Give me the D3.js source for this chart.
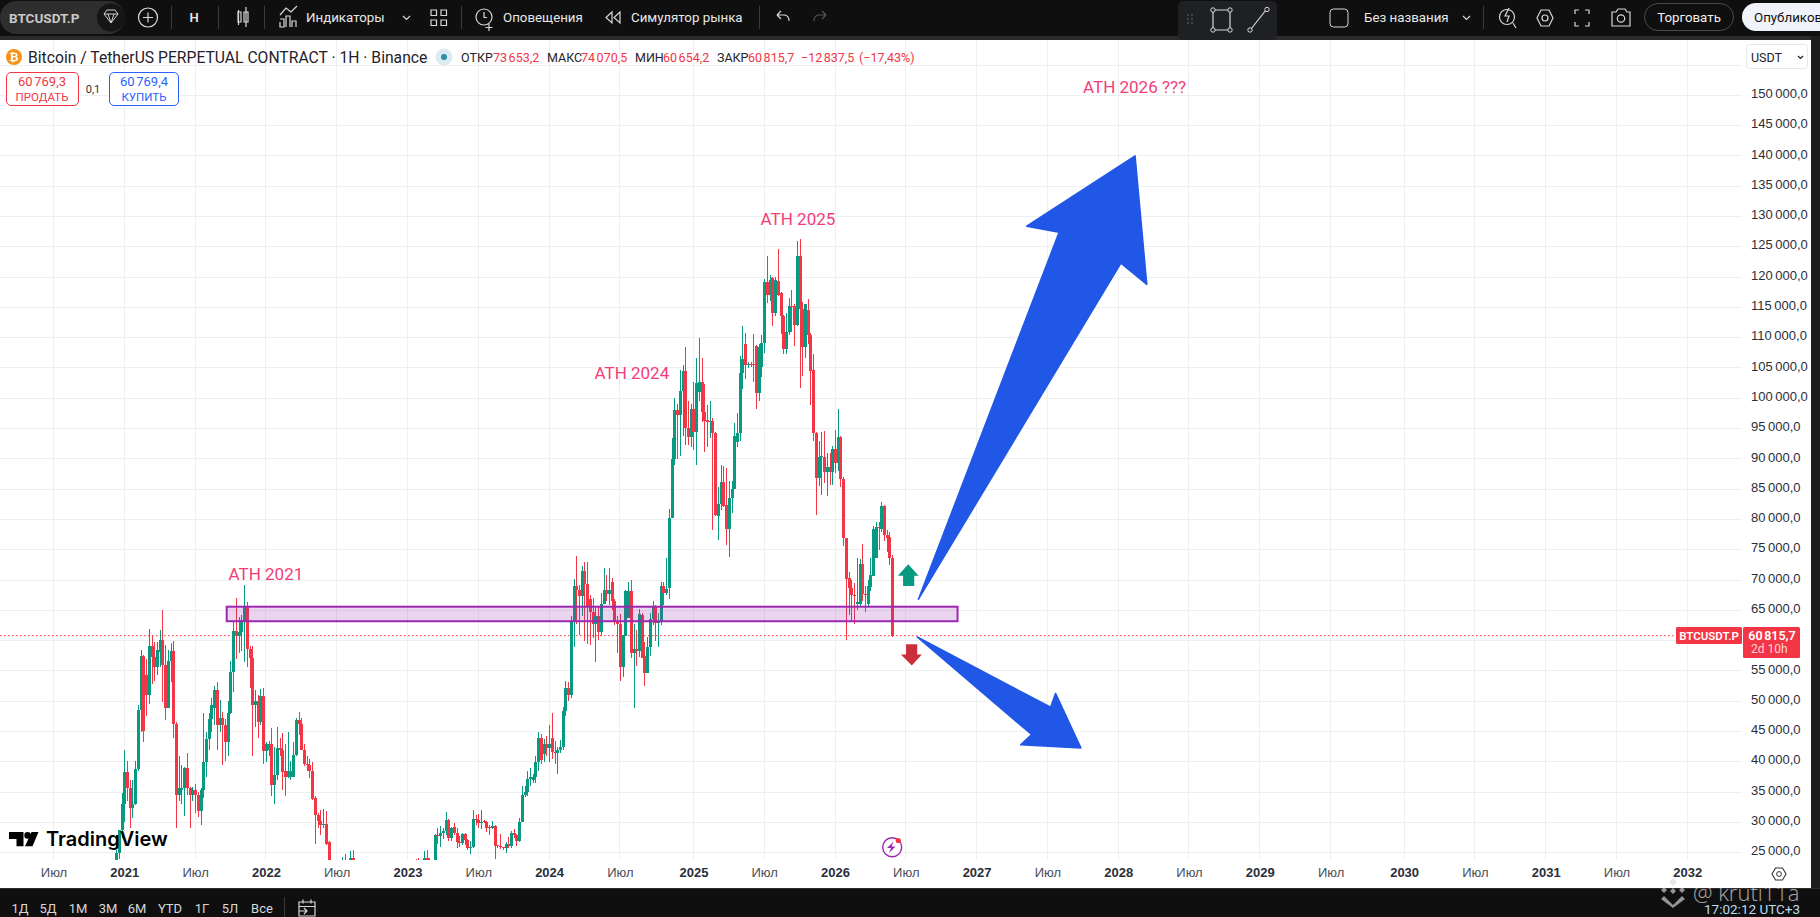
<!DOCTYPE html>
<html lang="ru">
<head>
<meta charset="utf-8">
<title>BTCUSDT.P</title>
<style>
  html, body { margin: 0; padding: 0; background: #fff; overflow: hidden; }
  svg { display: block; font-family: Roboto, "Open Sans", sans-serif; }
  .axis path, .axis line { display: none; }
  .grid line { stroke: #eeeff1; stroke-width: 1; shape-rendering: crispEdges; }
  .price text { font-size: 13px; fill: #2a2e39; text-anchor: start; }
  .time text { font-size: 13px; fill: #4a4e59; }
  .time text.year { font-weight: 600; fill: #2a2e39; }
</style>
<script src="https://cdn.jsdelivr.net/npm/d3@7"></script>
</head>
<body>
<svg width="1820" height="917"></svg>
<script>
// weekly candles, price in thousands USDT, first bar is 3 bars before the 2021 tick
var firstBar = -3;
var opens = [
 22.5,25,28.8,33,38.3,35.7,32.3,33.1,38.8,48.5,
 57.5,54.3,51,59.1,57.3,55.7,58.2,60.1,56,48.9,
 56.6,58.3,46.3,34.5,35.3,35.7,38.9,35.7,34.5,35.3,
 34.5,31.8,35.3,39.9,43.7,47,48.8,51.8,46,47.3,
 46,43.2,48.1,54.8,61.6,60.8,61.5,63.1,65.5,58.7,
 57.2,49.3,50,46.6,50.9,41.8,42,43,36.2,37.8,
 42.3,42,38.5,37.5,37.5,37.5,41.2,46.9,46.3,42,
 39.6,39.4,38.5,34.1,31.2,30.3,29.5,29.8,26.7,22,
 21,20,20.5,21.5,23,23,21.5,24.2,21,20,
 19.5,19,20,20.5,19,19.5,20,20.5,16.5,16.3,
 16.6,17,16.9,17,16.8,16.6,16.8,17.6,20.8,22.8,
 23,23,22.8,23,24.2,23.5,23.2,23.2,27.9,27.7,
 28.3,28.5,30.4,27.4,29.2,28.3,26.8,26.6,28.1,27.1,
 25.8,25.9,30.5,30.4,29.9,30.2,30.1,29.2,29,29.4,
 26.2,26.1,25.9,25.8,26.5,26.1,28.2,27.9,26.9,30,
 34.5,35.1,37.1,37,37.5,39.9,43.9,41.3,43,42.2,
 43.9,41.7,41.5,42,42.5,48.4,52.1,51,63.3,69,
 68.4,67.4,71.5,69.3,66.8,64.8,62.8,64,61.4,66.1,
 68.4,67.7,69.7,66.6,63.3,62.7,55.7,60.7,63.7,68.2,
 58,58.7,58.3,64.2,57.4,54.7,59,63.6,65.6,62.9,
 63,69,67.8,68.7,80.3,89.9,98,97.3,101.2,104.5,
 95.1,93.6,98.3,94.5,101,102.7,97.7,96.4,96,96.2,
 94.2,80.6,82.5,86.1,82.4,78.4,83.6,85.1,92.8,94.2,
 104.1,108.9,105.5,105.6,105.6,108.6,100.9,105.2,109.2,119.2,
 117,119.8,114.1,119.3,117.3,113.6,108.1,110.9,115.2,115.2,
 112.1,123.5,114.8,108.5,114.5,110.5,104.6,94.2,86.8,90.3,
 90.3,87.9,88.7,87.9,91.6,89.3,93.6,86.6,77,70.3,
 68.7,67.5,66.1,66,72.7,67.7,66,68.9,70.7,73.7,
 78.8,78.4,82.2,77.4,77.1,73.65];
var highs = [
 25.5,28.8,34.8,42,40.2,37,37,40.2,49.3,58.5,
 57.7,57,61.9,60.7,59.7,59.7,61.8,65,59.2,58.4,
 59.6,59.9,46.5,40.9,39.5,39.2,41.4,35.9,35.8,36.4,
 35,35.6,48.1,45,48,50.6,52.5,53.2,50.2,48.2,
 47,50,56.6,63.1,67.1,63.9,64.3,69.2,66.3,59.1,
 59.1,51.9,51,52,52.2,43.3,43.5,45.5,42.5,45.8,
 44,44.8,43,45,40.2,43.2,47.2,48.2,47.2,43,
 41,40.5,40,34.4,31.5,32,32.2,31.9,27,23.5,
 22.5,21.5,22,24.3,24.8,23.7,25.2,25.4,22,21,
 20.5,20.5,21,21,20,20.5,21,21.2,17,17,
 17.2,17.5,17.3,17.2,17,17,17.8,21,23.7,23.7,
 24,24.2,23.5,25.2,25.5,24.1,23.6,28.1,29,29.4,
 29,31.7,30.6,29.2,29.9,29,27.7,28.3,28.3,27.3,
 27,32,31.2,31.4,32.1,30.4,30.2,29.5,30.2,29.5,
 26.3,28.1,26,26.8,27.6,28.6,28.9,28.1,30.7,36,
 36,38.5,39,38,41,44.9,44.6,43.7,44.2,46,
 48,43.5,42.5,43.6,49,53.3,53.2,64,70.2,74,
 69.2,72.3,72.9,72.9,67.5,67,65.5,65.6,67.9,72,
 70.8,72,70.3,66.9,64,64.4,61,68.4,69.6,70,
 62.7,61.8,65.2,64.5,59.8,60.6,64.5,66.5,65.9,64.5,
 69.7,69.6,73.6,81.7,93.5,100.1,99,104.6,105.5,108.5,
 99.5,99.1,102.7,106.6,110,106.6,102.4,98.9,99.5,96.7,
 94.5,85.3,89,88.9,88.5,86.3,86.4,95.9,97.5,107,
 112,110.7,106,106,110.6,108.8,109,110.5,119.6,123.4,
 120.3,120,120,124.6,117.6,113.7,114,116.6,117.8,115.5,
 126,126.3,115.9,115.6,116.3,110.7,107.3,94.5,93,94.5,
 94.6,90.9,90.9,92.2,94.8,98.2,93.7,87,77,71.4,
 70,69.5,73.7,73.4,76,69,70,73.7,79,79.6,
 79.6,82.8,82.4,78.2,78,74.07];
var lows = [
 21,24,27.5,30,33.5,29,30.7,32.9,38.5,45,
 43.2,47.5,49.5,52.8,53.4,54.3,55.6,49.9,46.9,48.9,
 53.2,44,29,33.5,33,31,34.5,29,33.5,31.5,
 30.9,29.6,34,37.5,42,45,46,42,45,39.5,
 40.2,41,47.9,51.5,57,58,58.3,56.5,55.6,52.1,
 41,45.7,44,46,39.7,40,41,34.3,33.1,37,
 41,35.3,34.3,37.4,37,37.5,41,44.5,41.9,39.3,
 38.5,37.3,33.7,26.5,29,28,29,26.3,21,20,
 19.5,19,19.5,21,22,21,21,20,20,19,
 18.5,18.5,19,18.5,18.5,19,19.5,15.5,15.6,16,
 16,16.4,16.5,16.3,16.3,16.4,16.5,17.5,20,22,
 21.5,22.5,21,22.5,23,22,22,22,26.5,26,
 27.3,27.9,27,27,27.9,25.8,26,26.2,26.2,25.4,
 24.8,25.8,29.6,29.1,28.9,29.9,28.4,27.9,28.9,23.9,
 25.7,25.6,25.5,24.9,25.8,25.7,27.5,26.1,26.8,30,
 34.2,34.3,36,36.5,36.5,38.5,39.6,40,41,40,
 40.5,39.6,38,41.5,42,47.5,50,50.5,59,62.7,
 61,64,60,59.4,59.2,60.5,56.5,60.1,60.7,66,
 66.5,65.9,65,62.5,58,53.4,54,60.7,63.7,57.2,
 48.8,55.8,57.3,57.2,52.5,54.7,57.5,62.6,60,59,
 62.5,65.9,67.6,66.8,80.3,89,90,90.4,93.7,92.3,
 92.3,92,91.4,89,99.6,96.1,91.2,92,93.4,78.2,
 80.5,76.6,81.6,82,75.7,73.8,81,85,92,93,
 101.5,103.2,105,105.2,102.7,98.2,99.5,103.5,107.5,115.7,
 116,111.9,113.5,116.8,110.6,107.3,107.3,110.5,111,108.6,
 112,101.7,103.7,106.7,109,98.9,93,80.7,85.5,84,
 86,83.8,85.7,85.7,87.6,88,85.3,75.6,60.1,64.3,
 63.2,62.7,65.1,65.5,66.5,64.8,65.6,68.2,70.6,73.6,
 75,78,76.5,74.6,72.5,60.65];
var closes = [
 25,28.8,33,38.3,35.7,32.3,33.1,38.8,48.5,57.5,
 45.1,51,59.1,57.3,55.7,58.5,60.1,56,48.9,56.6,
 58.3,46.3,34.5,35.7,35.7,38.9,35.7,34.5,35.3,34.5,
 31.8,35.3,39.9,43.7,47,49.4,51.8,46,47.3,46,
 43.2,48.1,54.8,61.6,60.8,61.5,63.4,65.5,58.7,57.2,
 49.3,50,46.6,50.9,41.8,43,43,36.2,37.8,42.3,
 41.9,38.3,37.5,38.5,38.5,41.2,46.9,46.3,42,39.6,
 39.4,38.5,33.9,31.2,30.3,29.5,29.8,26.4,22,21,
 20,20.5,21.5,23,23,21.5,24.2,21,20,19.5,
 19,20,20.5,19,19.5,20,20.5,16.5,16.3,16.6,
 17,16.9,17,16.8,16.6,16.8,17.6,20.8,22.8,22.5,
 22.5,22.8,23,24.2,23.5,23.2,23.2,27.9,27.7,28.3,
 28.5,30.4,27.4,29,28.3,26.8,26.6,28.1,27.1,25.8,
 25.9,30.5,30.4,29.9,30.1,30.1,29,29,29.4,26.1,
 26.1,25.9,25.8,26.5,26.1,28.2,27.9,26.9,30,34.5,
 35.1,37.1,37.5,37.5,39.9,43.9,40.3,43,42.2,43,
 41.7,41.5,42,42.5,48.4,52.1,51,63.3,69,68.4,
 67.4,71.5,69.3,65.7,64.7,62.8,64,61.4,66.1,68.4,
 67.7,68.4,66.6,63.1,62.7,55.7,60.9,68.2,68.2,58,
 58.7,58.3,64.4,57.2,54.7,59,63.6,65.6,62.9,63,
 69,67.8,68.6,80.3,89.9,98,97.3,101.2,104.5,95.1,
 93.6,98.3,94.5,102.5,102.7,97.7,96.2,96,96.2,94.2,
 80.7,82.5,86.1,82.2,78.4,83.6,85.1,93.8,94.2,104.1,
 106.4,105.5,105.6,105.5,105.5,100.9,108.5,109.2,119.2,117,
 119.5,114.1,119.5,117.1,113.5,108.1,110.9,115.2,115.1,112.1,
 123.5,114.8,108.5,115.5,110.4,104.5,94.2,86.8,90.3,90.4,
 87.9,88.7,87.9,91.6,89.3,93.6,86.6,77,70.2,68.7,
 67.5,67.3,66.3,72.7,67.7,67.5,69,70.8,78.5,78.8,
 78.7,82.2,77.4,77,73.6,60.82];

var priceTicks = [25,30,35,40,45,50,55,60,65,70,75,80,85,90,95,100,105,110,115,120,125,130,135,140,145,150,155];
var timeTickBars = [-26,0,26,52,78,104,130,156,182,209,235,261,287,313,339,365,391,417,443,470,496,522,548,574];
var timeTickLabels = ["Июл","2021","Июл","2022","Июл","2023","Июл","2024","Июл","2025","Июл","2026","Июл","2027","Июл","2028","Июл","2029","Июл","2030","Июл","2031","Июл","2032"];
var lastPrice = 60.82;

// drawings on the chart, [bar, price]
var zoneBars = [37.6, 306], zonePrices = [63.2, 65.6];
var noteTexts = ["ATH 2021","ATH 2024","ATH 2025","ATH 2026 ???"];
var noteBars = [52,186.4,247.4,371];
var notePrices = [71,104.2,129.6,151.4];
var bigArrow = [[291.6,66.8],[343.3,127.4],[331.4,128.4],[371.2,140],[375.5,118.8],[366,122.3]];
var smallArrow = [[291.2,60.6],[340.2,49],[342,51.3],[351.3,42.3],[329.2,42.8],[333.2,44.5]];
var upMark = [[287.9,72.6],[291.7,70.7],[290.1,70.7],[290.1,69],[286,69],[286,70.7],[284.1,70.7]];
var downMark = [[289.2,55.9],[292.9,57.7],[291.2,57.7],[291.2,59.4],[287.1,59.4],[287.1,57.7],[285.2,57.7]];

var candles = closes.map(function(c, i) {
  return {bar: firstBar + i, o: opens[i], h: highs[i], l: lows[i], c: c};
});

var svg = d3.select("svg");
var green = "#089981", red = "#f23645", pink = "#f23d78", dark = "#0f0f0f";
var plotRight = 1742, plotTop = 40, plotBottom = 860, panelRight = 1811, panelBottom = 888;

var x = d3.scaleLinear().domain([0, 574]).range([124.3, 1687.3]);
var y = d3.scaleLinear().domain([25, 150]).range([852.7, 95.3]);
var ruLocale = d3.formatLocale({decimal: ",", thousands: "\u202f", grouping: [3], currency: ["", ""]});
var fmtPrice = ruLocale.format(",.1f");

svg.append("defs").append("clipPath").attr("id", "plot")
  .append("rect").attr("x", 0).attr("y", plotTop).attr("width", plotRight).attr("height", plotBottom - plotTop);

// grid
var grid = svg.append("g").attr("class", "grid");
grid.selectAll(".v").data(timeTickBars).enter().append("line")
  .attr("x1", function(d) { return x(d); }).attr("x2", function(d) { return x(d); })
  .attr("y1", plotTop).attr("y2", plotBottom);
grid.selectAll(".h").data(priceTicks).enter().append("line")
  .attr("x1", 0).attr("x2", plotRight)
  .attr("y1", function(d) { return y(d); }).attr("y2", function(d) { return y(d); });

var plot = svg.append("g").attr("clip-path", "url(#plot)");

// last price dotted line
plot.append("line")
  .attr("x1", 0).attr("x2", 1676).attr("y1", y(lastPrice)).attr("y2", y(lastPrice))
  .attr("stroke", red).attr("stroke-width", 1).attr("stroke-dasharray", "1.5 2.5");

// candles, snapped to whole pixels so they stay as sharp as in the platform
function barColor(d) { return d.c >= d.o ? green : red; }
function snap(d) { return Math.round(x(d.bar)); }
plot.selectAll(".wick").data(candles).enter().append("rect")
  .attr("x", snap)
  .attr("width", 1)
  .attr("y", function(d) { return y(d.h); })
  .attr("height", function(d) { return y(d.l) - y(d.h); })
  .attr("fill", barColor)
  .attr("shape-rendering", "crispEdges");
plot.selectAll(".body").data(candles).enter().append("rect")
  .attr("x", function(d) { return snap(d) - 1; })
  .attr("width", 3)
  .attr("y", function(d) { return y(Math.max(d.o, d.c)); })
  .attr("height", function(d) { return Math.max(1, Math.abs(y(d.o) - y(d.c))); })
  .attr("fill", barColor)
  .attr("shape-rendering", "crispEdges");

// zone
plot.append("rect")
  .attr("x", x(zoneBars[0])).attr("width", x(zoneBars[1]) - x(zoneBars[0]))
  .attr("y", y(zonePrices[1])).attr("height", y(zonePrices[0]) - y(zonePrices[1]))
  .attr("fill", "#9c27b0").attr("fill-opacity", 0.2)
  .attr("stroke", "#9c27b0").attr("stroke-width", 2);

// arrows
var polyLine = d3.line().x(function(d) { return x(d[0]); }).y(function(d) { return y(d[1]); });
[bigArrow, smallArrow].forEach(function(a) {
  plot.append("path").attr("d", polyLine(a) + "Z")
    .attr("fill", "#2157e6").attr("stroke", "#2157e6").attr("stroke-width", 1.5).attr("stroke-linejoin", "round");
});
plot.append("path").attr("d", polyLine(upMark) + "Z").attr("fill", green);
plot.append("path").attr("d", polyLine(downMark) + "Z").attr("fill", "#cc2f3c");

// notes
plot.selectAll(".note").data(noteTexts).enter().append("text")
  .attr("x", function(d, i) { return x(noteBars[i]); })
  .attr("y", function(d, i) { return y(notePrices[i]); })
  .attr("text-anchor", "middle")
  .attr("dominant-baseline", "central")
  .attr("fill", pink)
  .attr("font-size", 17)
  .text(function(d) { return d; });

// axes, the 60 000 label sits under the price tag
svg.append("g").attr("class", "axis price").attr("transform", "translate(1751,-2)")
  .call(d3.axisRight(y).tickValues(priceTicks.filter(function(p) { return p <= 150 && p !== 60; }))
    .tickSize(0).tickPadding(0).tickFormat(function(p) { return fmtPrice(p * 1000); }));
var timeAxis = svg.append("g").attr("class", "axis time").attr("transform", "translate(0,860)")
  .call(d3.axisBottom(x).tickValues(timeTickBars).tickSize(0).tickPadding(8)
    .tickFormat(function(b) { return timeTickLabels[timeTickBars.indexOf(b)]; }));
timeAxis.selectAll("text").classed("year", function(b) { return timeTickLabels[timeTickBars.indexOf(b)] !== "Июл"; });

// chrome helpers
function label(s, px, py, size, fill, anchor, weight) {
  return svg.append("text").attr("x", px).attr("y", py).attr("font-size", size).attr("fill", fill)
    .attr("text-anchor", anchor || "start").attr("dominant-baseline", "central")
    .attr("font-weight", weight || 400).text(s);
}
function box(px, py, w, h, fill, stroke, r) {
  return svg.append("rect").attr("x", px).attr("y", py).attr("width", w).attr("height", h)
    .attr("fill", fill).attr("stroke", stroke || "none").attr("rx", r || 0);
}
function icon(d, stroke, sw) {
  return svg.append("path").attr("d", d).attr("fill", "none").attr("stroke", stroke || "#d8d8d8").attr("stroke-width", sw || 1.2);
}

// price tags
box(1676, 627, 66, 17, red, null, 1.5);
label("BTCUSDT.P", 1709, 635.8, 11.5, "#fff", "middle", 600);
box(1743, 627, 57, 31, red, null, 1.5);
label(fmtPrice(lastPrice * 1000 - 4.3), 1772, 635.5, 12.5, "#fff", "middle", 600);
label("2d 10h", 1751, 649, 12, "#ffd3d8");

// gear on the time axis
icon("M1772 874l3.5-6h7l3.5 6-3.5 6h-7z", "#333", 1.1);
svg.append("circle").attr("cx", 1779).attr("cy", 874).attr("r", 2.4).attr("fill", "none").attr("stroke", "#333");

// lightning badge
svg.append("circle").attr("cx", x(282)).attr("cy", 847.3).attr("r", 9.5).attr("fill", "#fff").attr("stroke", "#9c27b0").attr("stroke-width", 1.4);
svg.append("path").attr("d", "M893.5 841.5l-6.5 6.5h4l-2 5 6.5-6.5h-4z").attr("fill", "#9c27b0");
svg.append("circle").attr("cx", 898.3).attr("cy", 840.5).attr("r", 2.6).attr("fill", red);

// TradingView logo
svg.append("path").attr("d", "M9 832h14.5v14.2h-7v-7.2H9z").attr("fill", "#000");
svg.append("circle").attr("cx", 27.6).attr("cy", 835.4).attr("r", 3.3).attr("fill", "#000");
svg.append("path").attr("d", "M31.5 832h7l-6 14.2h-7.5z").attr("fill", "#000");
label("TradingView", 46, 838.5, 20, "#000", "start", 600).attr("font-family", "Inter, Roboto, sans-serif");

// legend row
svg.append("circle").attr("cx", 14).attr("cy", 57).attr("r", 8).attr("fill", "#f7931a");
label("₿", 14, 57, 11, "#fff", "middle", 700);
label("Bitcoin / TetherUS PERPETUAL CONTRACT · 1H · Binance", 28, 57, 15.7, "#1f222b");
svg.append("circle").attr("cx", 444).attr("cy", 57).attr("r", 8.5).attr("fill", "#dcebf2");
svg.append("circle").attr("cx", 444).attr("cy", 57).attr("r", 3).attr("fill", "#2b8fa3");
[["ОТКР",461,"#1f222b"],["73 653,2",493,red],["МАКС",547,"#1f222b"],["74 070,5",581,red],["МИН",635,"#1f222b"],["60 654,2",663,red],["ЗАКР",717,"#1f222b"],["60 815,7",748,red],["−12 837,5",801,red],["(−17,43%)",859,red]]
  .forEach(function(t) { label(t[0].replace(" ", "\u202f"), t[1], 57, 12.5, t[2]); });

// buy / sell
box(6.5, 72.5, 72, 33, "#fff", red, 4.5);
label("60\u202f769,3", 42, 81.5, 13, red, "middle");
label("ПРОДАТЬ", 42, 97, 11.5, red, "middle");
label("0,1", 93, 89, 11, "#333", "middle");
box(109.5, 72.5, 69, 33, "#fff", "#2962ff", 4.5);
label("60\u202f769,4", 144, 81.5, 13, "#2962ff", "middle");
label("КУПИТЬ", 144, 97, 11.5, "#2962ff", "middle");

// USDT box
box(1746.5, 44.5, 61, 24, "#fff", "#e8e8e8", 3);
label("USDT", 1751, 57, 12.5, "#1f222b");
icon("M1798 56l2.5 2.5 2.5-2.5", "#1f222b", 1.2);

// top toolbar
box(0, 0, 1820, 36, dark);
box(0, 36, 1820, 4, "#2a2a2a");
box(0, 1, 125, 33, "#2e2e2e", null, 16.5);
svg.append("circle").attr("cx", 111).attr("cy", 17.5).attr("r", 14).attr("fill", "#151515");
label("BTCUSDT.P", 9, 17.5, 13.5, "#c8c8c8", "start", 700);
icon("M104 14l3-4h8l3 4-7 9zM104 14h14M108 14l3 9 3-9", "#d0d0d0", 1);
svg.append("circle").attr("cx", 148).attr("cy", 17.5).attr("r", 9.5).attr("fill", "none").attr("stroke", "#d8d8d8").attr("stroke-width", 1.2);
icon("M148 12.5v10M143 17.5h10");
[171,218,264,461,759,1483].forEach(function(sx) { box(sx, 6, 1, 23, "#3a3a3a"); });
label("Н", 194, 17.5, 13, "#e8e8e8", "middle", 600);
icon("M238.5 10v15M238 12h3v10h-3zM246 7v20M244 12h4v10h-4z");
icon("M280 22v5h4v-8h-4M286 27v-11h4v11M292 27v-6h4v6M280 15l6-7 5 4 6-6");
label("Индикаторы", 306, 17.5, 13.3, "#e8e8e8");
icon("M403 16l3.5 3.5 3.5-3.5");
icon("M431 10h5.5v5.5H431zM441 10h5.5v5.5H441zM431 20h5.5v5.5H431zM441 20h5.5v5.5H441z");
svg.append("circle").attr("cx", 484).attr("cy", 17).attr("r", 8).attr("fill", "none").attr("stroke", "#d8d8d8").attr("stroke-width", 1.2);
icon("M484 12v5.5h3M489 24v7M485.5 27.5h7");
label("Оповещения", 503, 17.5, 13.3, "#e8e8e8");
icon("M612 12l-6 5.5 6 5.5zM620 12l-6 5.5 6 5.5z");
label("Симулятор рынка", 631, 17.5, 13.3, "#e8e8e8");
icon("M777 15l4-4M777 15l4 4M777 15h8a6 6 0 0 1 4 6");
icon("M826 15l-4-4M826 15l-4 4M826 15h-8a6 6 0 0 0-4 6", "#555");

// floating drawing tools
box(1178, 1, 99, 39, "#1e2024", null, 5);
[[1188,15],[1188,19],[1188,23],[1192,15],[1192,19],[1192,23]].forEach(function(p) {
  svg.append("circle").attr("cx", p[0]).attr("cy", p[1]).attr("r", 0.9).attr("fill", "#555");
});
icon("M1213 10h17v20h-17z");
[[1213,10],[1230,10],[1213,30],[1230,30]].forEach(function(p) {
  svg.append("circle").attr("cx", p[0]).attr("cy", p[1]).attr("r", 2.2).attr("fill", "#1e2024").attr("stroke", "#d8d8d8");
});
icon("M1251 29l15-19");
[[1250,30],[1267,9.5]].forEach(function(p) {
  svg.append("circle").attr("cx", p[0]).attr("cy", p[1]).attr("r", 2.2).attr("fill", "#1e2024").attr("stroke", "#d8d8d8");
});

// right side of the toolbar
box(1330, 9, 18, 18, "none", "#d8d8d8", 3.5);
label("Без названия", 1364, 17.5, 13.3, "#e8e8e8");
icon("M1463 16l3.5 3.5 3.5-3.5");
svg.append("circle").attr("cx", 1507).attr("cy", 17).attr("r", 7.5).attr("fill", "none").attr("stroke", "#d8d8d8").attr("stroke-width", 1.2);
icon("M1513 23l3 5M1509 8l-4 8h4l-2 6");
icon("M1537 18l4-8h8l4 8-4 8h-8z");
svg.append("circle").attr("cx", 1545).attr("cy", 18).attr("r", 3).attr("fill", "none").attr("stroke", "#d8d8d8").attr("stroke-width", 1.2);
icon("M1575 14v-4h4M1585 10h4v4M1589 22v4h-4M1579 26h-4v-4");
icon("M1612 12h4l2-3h7l2 3h3v14h-18z");
svg.append("circle").attr("cx", 1621).attr("cy", 18.5).attr("r", 3.7).attr("fill", "none").attr("stroke", "#d8d8d8").attr("stroke-width", 1.2);
box(1644.5, 3.5, 89, 27, dark, "#4a4a4a", 13.5);
label("Торговать", 1689, 17.5, 13.3, "#f0f0f0", "middle");
box(1742, 3, 100, 28, "#f0f3fa", null, 14);
label("Опубликов", 1754, 17.5, 13.3, "#111");

// bottom bar and right edge
box(panelRight, 36, 9, 881, "#1d1d1d");
box(0, panelBottom, 1820, 29, dark);
box(0, panelBottom, 1820, 1, "#2f2f2f");
[["1Д",20],["5Д",48],["1М",78],["3М",108],["6М",137],["YTD",170],["1Г",202],["5Л",230],["Все",262]].forEach(function(t) {
  label(t[0], t[1], 908, 13, "#d8d8d8", "middle");
});
box(284, 897, 1, 22, "#3a3a3a");
icon("M299 902h16v14h-16zM299 906.5h16M303 899.5v4M311 899.5v4M299 911h8M304 908l3 3-3 3");

// watermark and clock
svg.append("g").attr("opacity", 0.65).attr("fill", "#dcdcdc").selectAll("path")
  .data(["M1673 878l4 4-4 4-4-4zM1664 887l3 3-3 3-3-3zM1682 887l3 3-3 3-3-3zM1673 888l3 3-3 3-3-3zM1664 896l9 9 9-9 3 3-12 9-12-9z"])
  .enter().append("path").attr("d", function(d) { return d; });
label("@ kruti11a", 1693, 892, 22, "#ffffff", "start", 300).attr("opacity", 0.62).attr("font-family", "'Open Sans', sans-serif");
label("17:02:12 UTC+3", 1704, 909, 13.5, "#bcdcf0");
</script>
</body>
</html>
